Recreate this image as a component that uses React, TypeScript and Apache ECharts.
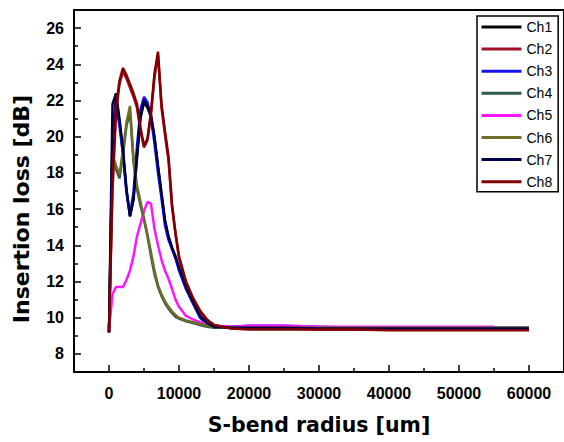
import React, { useEffect, useRef } from "react";
import * as echarts from "echarts";

const radius = [0, 500, 1000, 1500, 2000, 2500, 3000, 3500, 4000, 4500, 5000, 5500, 6000, 6500, 7000, 7500, 8000, 8500, 9000, 9500, 10000, 11000, 12000, 13000, 14000, 15000, 17500, 20000, 25000, 30000, 35000, 40000, 45000, 50000, 55000, 60000];

const ch1 = [9.2, 20.0, 22.2, 20.8, 19.1, 17.0, 15.6, 16.5, 18.8, 21.0, 21.9, 21.6, 21.1, 19.9, 18.3, 16.8, 15.3, 14.4, 13.8, 13.3, 12.7, 11.6, 10.8, 10.05, 9.7, 9.5, 9.45, 9.45, 9.45, 9.4, 9.4, 9.4, 9.4, 9.4, 9.4, 9.4];
const ch2 = [9.2, 17.0, 21.3, 22.9, 23.6, 23.2, 22.7, 22.2, 21.6, 20.3, 19.4, 19.8, 21.2, 23.3, 24.5, 21.6, 20.1, 18.7, 16.1, 14.6, 13.3, 11.9, 11.0, 10.3, 9.85, 9.6, 9.4, 9.4, 9.4, 9.35, 9.35, 9.35, 9.35, 9.35, 9.35, 9.35];
const ch3 = [9.2, 19.5, 21.8, 20.6, 19.0, 16.9, 15.7, 16.9, 19.5, 21.5, 22.2, 21.9, 21.0, 19.6, 18.0, 16.6, 15.1, 14.3, 13.8, 13.3, 12.6, 11.6, 10.8, 10.0, 9.65, 9.5, 9.5, 9.55, 9.55, 9.5, 9.45, 9.45, 9.45, 9.45, 9.45, 9.45];
const ch4 = [9.2, 18.6, 18.2, 17.7, 19.0, 20.6, 21.4, 18.6, 17.1, 16.2, 15.4, 14.5, 13.4, 12.4, 11.7, 11.2, 10.8, 10.5, 10.25, 10.05, 9.95, 9.8, 9.7, 9.6, 9.5, 9.45, 9.45, 9.45, 9.45, 9.45, 9.45, 9.45, 9.45, 9.45, 9.45, 9.45];
const ch5 = [9.3, 11.3, 11.7, 11.7, 11.7, 12.1, 12.6, 13.4, 14.5, 15.2, 15.9, 16.4, 16.3, 14.9, 14.0, 13.2, 12.6, 12.15, 11.6, 11.0, 10.6, 10.1, 9.9, 9.75, 9.65, 9.55, 9.5, 9.55, 9.55, 9.5, 9.5, 9.5, 9.5, 9.5, 9.5, null];
const ch6 = [9.2, 19.0, 18.4, 17.9, 19.3, 20.8, 21.7, 18.8, 17.3, 16.4, 15.5, 14.6, 13.6, 12.6, 11.8, 11.3, 10.9, 10.6, 10.35, 10.15, 10.0, 9.85, 9.75, 9.65, 9.55, 9.5, 9.45, 9.45, 9.45, 9.45, 9.45, 9.45, 9.45, 9.45, 9.45, 9.45];
const ch7 = [9.2, 21.8, 22.4, 21.0, 19.3, 17.1, 15.6, 16.6, 19.0, 21.2, 22.0, 21.7, 21.2, 20.0, 18.4, 16.9, 15.4, 14.5, 13.9, 13.4, 12.8, 11.7, 10.9, 10.1, 9.7, 9.5, 9.45, 9.45, 9.45, 9.4, 9.4, 9.4, 9.4, 9.4, 9.4, 9.4];
const ch8 = [9.2, 17.5, 21.6, 23.1, 23.8, 23.4, 22.9, 22.4, 21.8, 20.5, 19.5, 19.9, 21.4, 23.5, 24.7, 21.8, 20.3, 18.9, 16.3, 14.7, 13.4, 12.0, 11.1, 10.4, 9.9, 9.6, 9.4, 9.35, 9.35, 9.35, 9.35, 9.3, 9.3, 9.3, 9.3, 9.3];

const channelNames = ["Ch1", "Ch2", "Ch3", "Ch4", "Ch5", "Ch6", "Ch7", "Ch8"];
const channelValues = [ch1, ch2, ch3, ch4, ch5, ch6, ch7, ch8];
const channelColors = ["#000000", "#a01028", "#1414f0", "#2e5a50", "#ff14ff", "#6e6e28", "#000048", "#800000"];

const xMajorTicks = [0, 10000, 20000, 30000, 40000, 50000, 60000];
const xMinorTicks = [5000, 15000, 25000, 35000, 45000, 55000];
const yMajorTicks = [8, 10, 12, 14, 16, 18, 20, 22, 24, 26];
const yMinorTicks = [9, 11, 13, 15, 17, 19, 21, 23, 25];

const xTitle = "S-bend radius [um]";
const yTitle = "Insertion loss [dB]";

const FONT = "Liberation Sans, Arial, sans-serif";
const TITLE_FONT = "DejaVu Sans, Verdana, sans-serif";

export default function App() {
  const ref = useRef<HTMLDivElement>(null);
  useEffect(() => {
    if (!ref.current) return;
    const chart = echarts.init(ref.current, null, { renderer: "svg" });
    const xCommon = { type: "value", min: -5000, max: 65000, splitLine: { show: false } };
    const yCommon = { type: "value", min: 7, max: 27, splitLine: { show: false } };
    chart.setOption({
      animation: false,
      backgroundColor: "#ffffff",
      grid: { left: 74, right: -1, top: 10, bottom: 70, show: true, borderColor: "#000", borderWidth: 2, backgroundColor: "transparent" },
      legend: {
        orient: "vertical",
        left: 477,
        top: 16,
        padding: [4, 6, 3, 3],
        borderColor: "#000",
        borderWidth: 1.5,
        itemWidth: 40,
        itemHeight: 14,
        itemGap: 8.1,
        data: channelNames,
        itemStyle: { opacity: 0 },
        lineStyle: { width: 3 },
        textStyle: { fontFamily: FONT, fontSize: 14, color: "#000" },
      },
      graphic: [
        {
          type: "text",
          x: 21,
          y: 209,
          rotation: Math.PI / 2,
          style: {
            text: yTitle,
            fontFamily: TITLE_FONT,
            fontSize: 22,
            fontWeight: "bold",
            fill: "#000",
            align: "center",
            verticalAlign: "middle",
          },
        },
      ],
      xAxis: [
        {
          ...xCommon,
          position: "bottom",
          axisLine: { show: true, onZero: false, lineStyle: { color: "#000", width: 2 } },
          axisTick: { show: true, inside: true, length: 7, customValues: xMajorTicks, lineStyle: { color: "#000", width: 1.5 } },
          axisLabel: { customValues: xMajorTicks, formatter: (v: number) => String(v), margin: 13, fontFamily: FONT, fontSize: 16, fontWeight: "bold", color: "#000" },
          name: xTitle,
          nameLocation: "middle",
          nameGap: 42,
          nameTextStyle: { fontFamily: TITLE_FONT, fontSize: 20.5, fontWeight: "bold", color: "#000" },
        },
        {
          ...xCommon,
          position: "bottom",
          axisLine: { show: false, onZero: false },
          axisTick: { show: true, inside: true, length: 4, customValues: xMinorTicks, lineStyle: { color: "#000", width: 1.5 } },
          axisLabel: { show: false },
        },
      ],
      yAxis: [
        {
          ...yCommon,
          position: "left",
          axisLine: { show: true, onZero: false, lineStyle: { color: "#000", width: 2 } },
          axisTick: { show: true, inside: true, length: 7, customValues: yMajorTicks, lineStyle: { color: "#000", width: 1.5 } },
          axisLabel: { customValues: yMajorTicks, margin: 10, fontFamily: FONT, fontSize: 16, fontWeight: "bold", color: "#000" },
        },
        {
          ...yCommon,
          position: "left",
          axisLine: { show: false, onZero: false },
          axisTick: { show: true, inside: true, length: 4, customValues: yMinorTicks, lineStyle: { color: "#000", width: 1.5 } },
          axisLabel: { show: false },
        },
      ],
      series: channelNames.map((name, k) => ({
        name,
        type: "line",
        xAxisIndex: 0,
        yAxisIndex: 0,
        symbol: "none",
        color: channelColors[k],
        lineStyle: { width: 2.5, color: channelColors[k] },
        data: radius.map((x, i) => [x, channelValues[k][i]]),
      })),
    });
    return () => chart.dispose();
  }, []);
  return <div ref={ref} style={{ width: 564, height: 442, position: "absolute", left: 0, top: 0 }} />;
}
